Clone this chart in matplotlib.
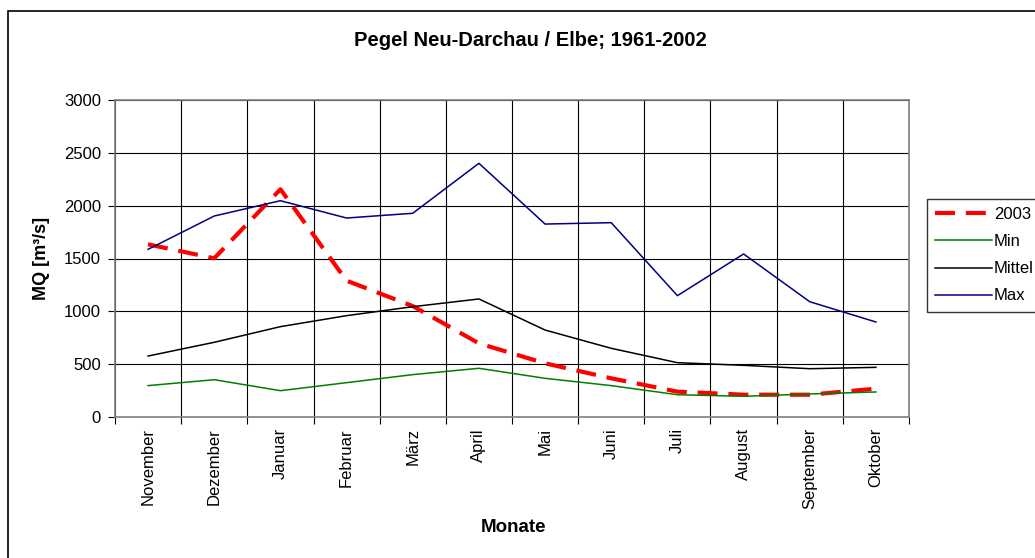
import numpy as np
import matplotlib
matplotlib.use('Agg')
import matplotlib.pyplot as plt
from matplotlib.patches import Rectangle

plt.rcParams['font.family'] = ['Liberation Sans', 'DejaVu Sans']

# Monthly discharge at Neu-Darchau (Elbe), hydrological year Nov-Oct
monate = ['November', 'Dezember', 'Januar', 'Februar', 'März', 'April',
          'Mai', 'Juni', 'Juli', 'August', 'September', 'Oktober']
q_2003 = [1634, 1502, 2155, 1290, 1050, 697, 508, 366, 240, 211, 211, 268]
q_min = [297, 353, 249, 325, 401, 461, 366, 297, 211, 196, 218, 237]
q_mittel = [577, 707, 855, 959, 1044, 1117, 823, 650, 514, 489, 457, 470]
q_max = [1587, 1902, 2047, 1883, 1928, 2401, 1826, 1839, 1148, 1543, 1091, 899]
y_ticks = [0, 500, 1000, 1500, 2000, 2500, 3000]

W, H = 1035, 558
fig = plt.figure(figsize=(W / 100, H / 100), dpi=100)
fig.patch.set_facecolor('white')

# outer chart frame
fig.patches.append(Rectangle((8 / W, -0.1), 1.2, 1 - 11 / H + 0.1,
                             transform=fig.transFigure, fill=False,
                             edgecolor='black', linewidth=1.2))

ax = fig.add_axes([115 / W, 1 - 417 / H, (909 - 115) / W, (417 - 100) / H])

x = np.arange(len(monate)) + 0.5
ax.plot(x, q_2003, color='red', lw=3, linestyle=(0, (4.8, 2.6)), label='2003')
ax.plot(x, q_min, color='#008000', lw=1.1, label='Min')
ax.plot(x, q_mittel, color='black', lw=1.1, label='Mittel')
ax.plot(x, q_max, color='#000080', lw=1.1, label='Max')

ax.set_xlim(0, 12)
ax.set_ylim(0, 3000)
ax.set_yticks(y_ticks)
ax.set_yticklabels([str(v) for v in y_ticks], fontsize=12)

# grid lines sit on the category boundaries, labels in between
ax.set_xticks(np.arange(13))
ax.set_xticklabels([''] * 13)
ax.set_xticks(x, minor=True)
ax.set_xticklabels(monate, minor=True, rotation=90, fontsize=12)
ax.tick_params(axis='x', which='minor', length=0, pad=8)
ax.tick_params(axis='x', which='major', length=5, direction='out')
ax.tick_params(axis='y', length=5, direction='out', pad=5)
ax.grid(True, which='major', color='black', linewidth=0.8)
ax.set_axisbelow(True)
for s in ax.spines.values():
    s.set_color('#808080')
    s.set_linewidth(1.2)

fig.text(530 / W, 1 - 41 / H, 'Pegel Neu-Darchau / Elbe; 1961-2002',
         ha='center', va='center', fontsize=14.5, fontweight='bold')
fig.text(513 / W, 1 - 527 / H, 'Monate', ha='center', va='center',
         fontsize=13.5, fontweight='bold')
fig.text(42 / W, 1 - 258 / H, 'MQ [m³/s]', ha='center', va='center',
         rotation=90, fontsize=13, fontweight='bold')

leg = fig.legend(loc='upper left', bbox_to_anchor=(927 / W, 1 - 199 / H),
                 bbox_transform=fig.transFigure, borderaxespad=0,
                 fontsize=12, frameon=True, fancybox=False,
                 handlelength=3.4, handletextpad=0.1, labelspacing=0.72,
                 borderpad=0.5)
leg.get_frame().set_edgecolor('black')
leg.get_frame().set_linewidth(1.0)

fig.savefig('out.png', dpi=100)
